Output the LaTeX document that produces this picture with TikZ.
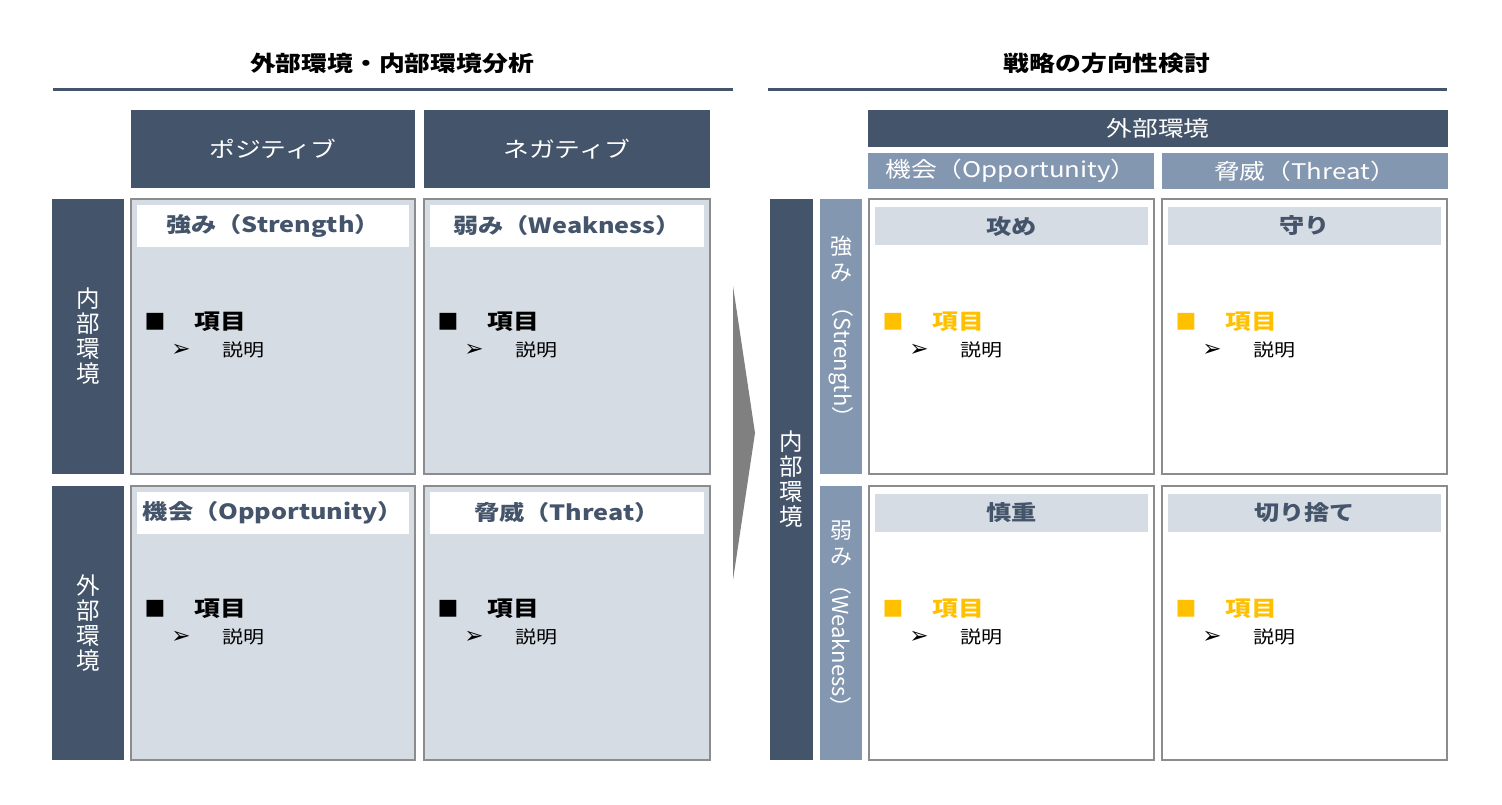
\documentclass[tikz,border=0pt]{standalone}
\usepackage{fontspec}
\usepackage{graphicx}
\setmainfont{Noto Sans CJK JP}
\newfontfamily\dv{DejaVu Sans}
\definecolor{dk}{HTML}{44546A}
\definecolor{md}{HTML}{8497B0}
\definecolor{lt}{HTML}{D6DCE4}
\definecolor{bd}{HTML}{8C8C8C}
\definecolor{og}{HTML}{FFC000}
\definecolor{ar}{HTML}{808080}
\newcommand\W[1]{\scalebox{1.2}[1]{#1}}
\newcommand\Fs[1]{\fontsize{#1}{#1}\selectfont}
\tikzset{
  box/.style={anchor=north west, inner sep=0pt, outer sep=0pt},
  darkbox/.style={box, fill=dk},
  midbox/.style={box, fill=md},
  cellL/.style={box, fill=lt, draw=bd, line width=2pt},
  cellR/.style={box, fill=white, draw=bd, line width=2pt},
  barL/.style={box, fill=white, minimum height=42},
  barR/.style={box, fill=lt, minimum height=38, yshift=-2pt},
  hdrtxt/.style={text=white, font=\Fs{21.5}, inner sep=0pt},
  ttl/.style={font=\Fs{21.5}\bfseries, text=black, inner sep=0pt},
  celltitle/.style={font=\Fs{21}\bfseries, text=dk, inner sep=0pt},
  vtxt/.style={text=white, font=\fontsize{23.5}{25}\selectfont, align=center, inner sep=0pt},
  sq/.style={font=\dv\Fs{22}, inner sep=0pt},
  itemtxt/.style={font=\Fs{21.5}\bfseries, anchor=west, inner sep=0pt},
  arrtxt/.style={font=\dv\Fs{23}, text=black, inner sep=0pt},
  desc/.style={font=\Fs{17.5}, text=black, anchor=west, inner sep=0pt},
  rule/.style={draw=dk, line width=3pt},
}
% name, x, y, w, h, cellstyle, barstyle, title, itemcolor
\newcommand\mkcell[9]{%
  \node[#6, minimum width=#4, minimum height=#5] (#1) at (#2,#3) {};
  \node[#7, minimum width=#4-12] (#1b) at (#2+6,#3+6) {};
  \node[celltitle] (#1t) at (#1b.center) {\W{#8}};
  \node[sq, text=#9] (#1s) at (#2+24,#3+123) {■};
  \node[itemtxt, text=#9] (#1i) at (#2+63,#3+123) {\W{項目}};
  \node[arrtxt] (#1a) at (#2+50,#3+151) {➢};
  \node[desc] (#1d) at (#2+91,#3+151) {\W{説明}};
}
\begin{document}
\begin{tikzpicture}[x=1pt,y=-1pt]
\useasboundingbox (0,0) rectangle (1502,805);
\fill[white] (0,0) rectangle (1502,805);

% titles and rules
\node[ttl] (t1) at (392,63) {\W{外部環境・内部環境分析}};
\node[ttl] (t2) at (1107,63) {\W{戦略の方向性検討}};
\coordinate (r1a) at (53,90); \coordinate (r1b) at (733,90);
\coordinate (r2a) at (768,90); \coordinate (r2b) at (1447,90);
\draw[rule] (r1a) -- (r1b);
\draw[rule] (r2a) -- (r2b);

% left headers
\node[darkbox, minimum width=284, minimum height=78] (pos) at (131,110) {};
\node[hdrtxt] (post) at (pos.center) {\W{ポジティブ}};
\node[darkbox, minimum width=286, minimum height=78] (neg) at (424,110) {};
\node[hdrtxt] (negt) at (neg.center) {\W{ネガティブ}};
\node[darkbox, minimum width=72, minimum height=275] (inL) at (52,199) {};
\node[vtxt] (inLt) at (inL.center) {内\\部\\環\\境};
\node[darkbox, minimum width=72, minimum height=274] (exL) at (52,486) {};
\node[vtxt] (exLt) at (exL.center) {外\\部\\環\\境};

% left cells
\mkcell{s}{131}{199}{284}{275}{cellL}{barL}{強み（Strength）}{black}
\mkcell{w}{424}{199}{286}{275}{cellL}{barL}{弱み（Weakness）}{black}
\mkcell{o}{131}{486}{284}{274}{cellL}{barL}{機会（Opportunity）}{black}
\mkcell{th}{424}{486}{286}{274}{cellL}{barL}{脅威（Threat）}{black}

% arrow
\coordinate (ar1) at (733,286); \coordinate (ar2) at (755,433); \coordinate (ar3) at (733,580);
\fill[ar] (ar1) -- (ar2) -- (ar3) -- cycle;

% right headers
\node[darkbox, minimum width=580, minimum height=37] (ext) at (868,110) {};
\node[hdrtxt] (extt) at (ext.center) {\W{外部環境}};
\node[midbox, minimum width=286, minimum height=36] (opp) at (868,153) {};
\node[hdrtxt] (oppt) at (opp.center) {\W{機会（Opportunity）}};
\node[midbox, minimum width=286, minimum height=36] (thr) at (1162,153) {};
\node[hdrtxt] (thrt) at (thr.center) {\W{脅威（Threat）}};

% right row labels
\node[darkbox, minimum width=43, minimum height=561] (inR) at (770,199) {};
\node[vtxt] (inRt) at (inR.center) {内\\部\\環\\境};
\node[midbox, minimum width=42, minimum height=275] (vs) at (820,199) {};
\node[vtxt, font=\fontsize{22}{26}\selectfont] (vs1) at (841,259) {強\\み};
\node[rotate=-90, text=white, font=\Fs{22}, inner sep=0pt] (vs2) at (841,362) {（Strength）};
\node[midbox, minimum width=42, minimum height=274] (vw) at (820,486) {};
\node[vtxt, font=\fontsize{22}{26}\selectfont] (vw1) at (841,543) {弱\\み};
\node[rotate=-90, text=white, font=\Fs{22}, inner sep=0pt] (vw2) at (841,646) {（Weakness）};

% right cells
\mkcell{a}{869}{199}{285}{275}{cellR}{barR}{攻め}{og}
\mkcell{m}{1162}{199}{285}{275}{cellR}{barR}{守り}{og}
\mkcell{c}{869}{486}{285}{274}{cellR}{barR}{慎重}{og}
\mkcell{k}{1162}{486}{285}{274}{cellR}{barR}{切り捨て}{og}
\end{tikzpicture}
\end{document}
